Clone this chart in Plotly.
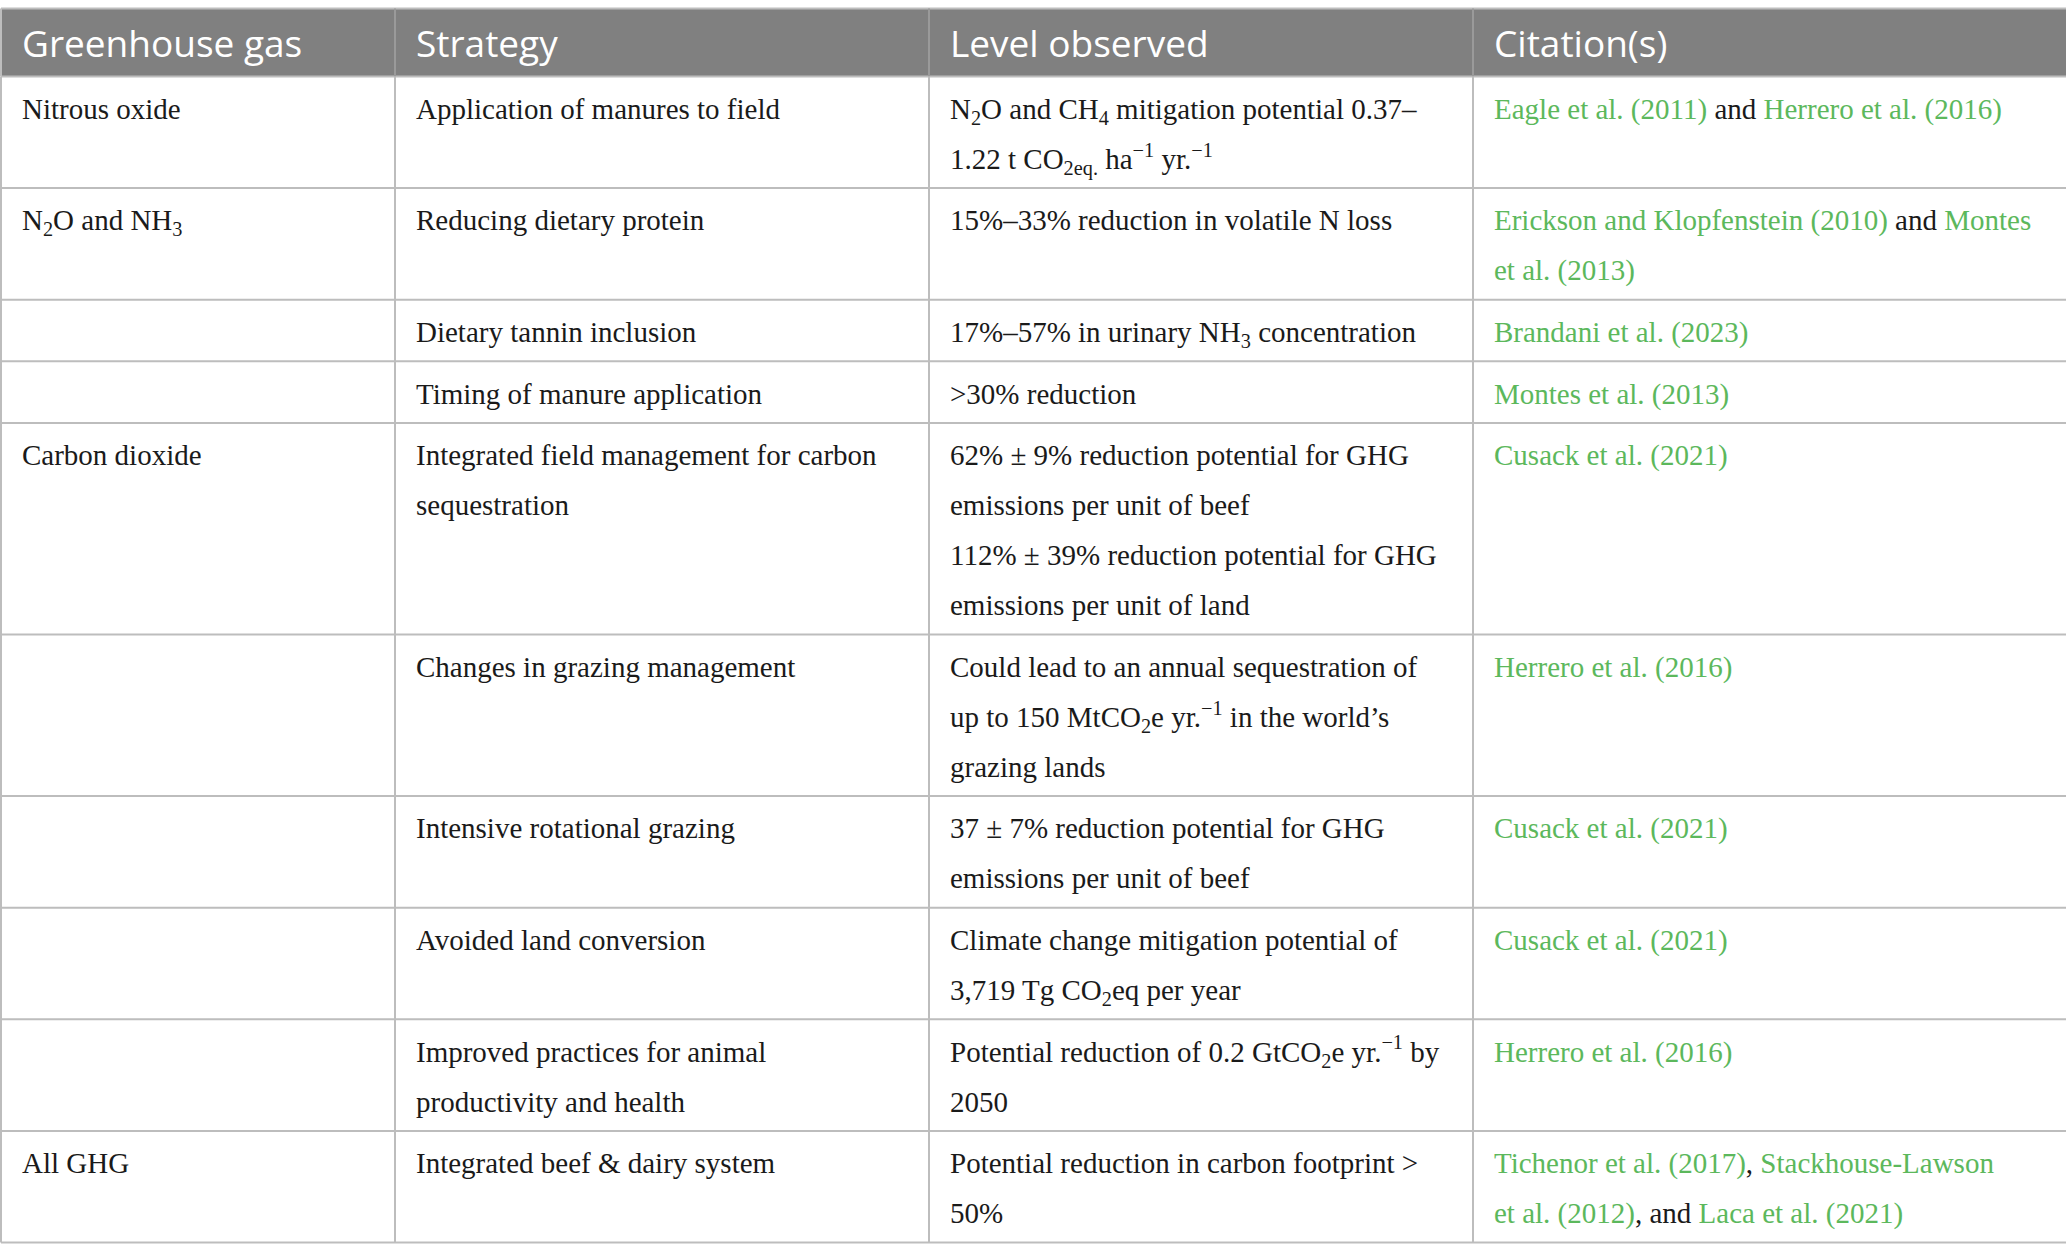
import plotly.graph_objects as go

GREEN = "#5cb85c"


def cite(s):
    return f"<span style='color:{GREEN}'>{s}</span>"


# table content, "<br>" marks the line breaks seen in the reference
headers = ["Greenhouse gas", "Strategy", "Level observed", "Citation(s)"]

gases = [
    "Nitrous oxide",
    "N<sub>2</sub>O and NH<sub>3</sub>",
    "",
    "",
    "Carbon dioxide",
    "",
    "",
    "",
    "",
    "All GHG",
]

strategies = [
    "Application of manures to field",
    "Reducing dietary protein",
    "Dietary tannin inclusion",
    "Timing of manure application",
    "Integrated field management for carbon<br>sequestration",
    "Changes in grazing management",
    "Intensive rotational grazing",
    "Avoided land conversion",
    "Improved practices for animal<br>productivity and health",
    "Integrated beef &amp; dairy system",
]

levels = [
    "N<sub>2</sub>O and CH<sub>4</sub> mitigation potential 0.37–<br>"
    "1.22 t CO<sub>2eq.</sub> ha<sup>−1</sup> yr.<sup>−1</sup>",
    "15%–33% reduction in volatile N loss",
    "17%–57% in urinary NH<sub>3</sub> concentration",
    "&gt;30% reduction",
    "62% ± 9% reduction potential for GHG<br>emissions per unit of beef<br>"
    "112% ± 39% reduction potential for GHG<br>emissions per unit of land",
    "Could lead to an annual sequestration of<br>"
    "up to 150 MtCO<sub>2</sub>e yr.<sup>−1</sup> in the world’s<br>grazing lands",
    "37 ± 7% reduction potential for GHG<br>emissions per unit of beef",
    "Climate change mitigation potential of<br>3,719 Tg CO<sub>2</sub>eq per year",
    "Potential reduction of 0.2 GtCO<sub>2</sub>e yr.<sup>−1</sup> by<br>2050",
    "Potential reduction in carbon footprint &gt;<br>50%",
]

citations = [
    cite("Eagle et al. (2011)") + " and " + cite("Herrero et al. (2016)"),
    cite("Erickson and Klopfenstein (2010)") + " and " + cite("Montes") + "<br>" + cite("et al. (2013)"),
    cite("Brandani et al. (2023)"),
    cite("Montes et al. (2013)"),
    cite("Cusack et al. (2021)"),
    cite("Herrero et al. (2016)"),
    cite("Cusack et al. (2021)"),
    cite("Cusack et al. (2021)"),
    cite("Herrero et al. (2016)"),
    cite("Tichenor et al. (2017)") + ", " + cite("Stackhouse-Lawson") + "<br>"
    + cite("et al. (2012)") + ", and " + cite("Laca et al. (2021)"),
]

columns = [gases, strategies, levels, citations]

# layout (pixels)
W, H = 2067, 1260
col_edges = [1, 395, 929, 1473, 2066]
header_top, header_bot = 8.5, 76.5
line_pitch = 50
row_pad = 11.6
text_pad = 21
first_line = 35     # centre of first text line below the row's top rule
body_size = 29
head_size = 37
line_col = "#bdbdbd"

n_lines = [max(len(col[i].split("<br>")) for col in columns) for i in range(len(gases))]
row_edges = [header_bot]
for n in n_lines:
    row_edges.append(row_edges[-1] + row_pad + line_pitch * n)

fig = go.Figure()

# header
fig.add_shape(type="rect", x0=col_edges[0], x1=col_edges[-1], y0=header_top, y1=header_bot,
              fillcolor="#808080", line_width=0, layer="below")
fig.add_trace(go.Scatter(
    x=[e + text_pad for e in col_edges[:-1]],
    y=[header_bot - 28.5] * len(headers),
    text=headers, mode="text", textposition="middle right",
    textfont=dict(family="Open Sans", size=head_size, color="white"),
    hoverinfo="skip"))

# body text, one point per text line
for c, col in enumerate(columns):
    xs, ys, ts = [], [], []
    for r, cell in enumerate(col):
        for k, line in enumerate(cell.split("<br>")):
            if not line:
                continue
            xs.append(col_edges[c] + text_pad)
            ys.append(row_edges[r] + first_line + k * line_pitch)
            ts.append(line)
    fig.add_trace(go.Scatter(
        x=xs, y=ys, text=ts, mode="text", textposition="middle right",
        textfont=dict(family="Liberation Serif", size=body_size, color="#1a1a1a"),
        hoverinfo="skip"))

# grid lines (no rule on the far right edge)
fig.add_shape(type="line", x0=col_edges[0], x1=col_edges[-1], y0=header_top, y1=header_top,
              line=dict(color=line_col, width=2))
for y in row_edges:
    fig.add_shape(type="line", x0=col_edges[0], x1=col_edges[-1], y0=y, y1=y,
                  line=dict(color=line_col, width=2))
for i, x in enumerate(col_edges[:-1]):
    fig.add_shape(type="line", x0=x, x1=x, y0=header_top, y1=header_bot,
                  line=dict(color="#9a9a9a" if i > 0 else line_col, width=2))
    fig.add_shape(type="line", x0=x, x1=x, y0=header_bot, y1=row_edges[-1],
                  line=dict(color=line_col, width=2))

fig.update_layout(
    width=W, height=H,
    margin=dict(l=0, r=0, t=0, b=0),
    paper_bgcolor="white", plot_bgcolor="white",
    showlegend=False,
    xaxis=dict(range=[0, W], visible=False, fixedrange=True),
    yaxis=dict(range=[H, 0], visible=False, fixedrange=True),
)

# drop the page's default body margin so the figure sits at the window corner
fig.write_html("out.html", config={"displayModeBar": False},
               post_script="document.body.style.margin = '0';")
